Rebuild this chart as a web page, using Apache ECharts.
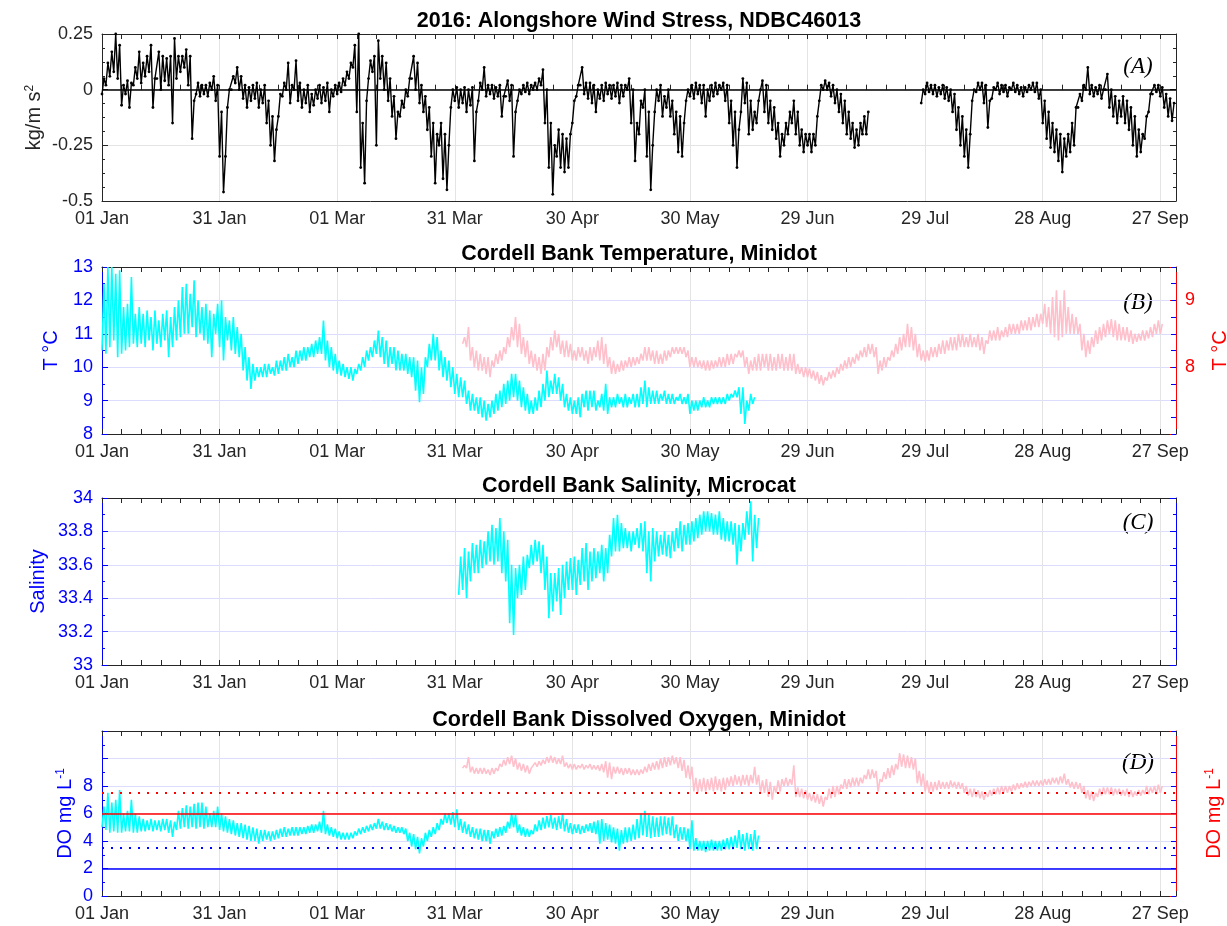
<!DOCTYPE html>
<html><head><meta charset="utf-8">
<script src="https://cdn.jsdelivr.net/npm/echarts@6/dist/echarts.min.js"></script>
<style>html,body{margin:0;padding:0;background:#fff}#c{width:1227px;height:926px}</style>
</head><body><div id="c"></div>
<script>
// ---------- data ----------
const tickLabels = ['01 Jan','31 Jan','01 Mar','31 Mar','30 Apr','30 May','29 Jun','29 Jul','28 Aug','27 Sep'];
const dayMax = 274; // days since 01 Jan 2016 (01 Oct)

// Panel A: alongshore wind stress (kg/m s^2), daily low / high, from day 0
const windStart = 0;
const windLo = [
-0.02,0.02,0.06,0.08,0.05,-0.07,-0.02,-0.08,0.02,0.05,
0.03,0.06,0.08,-0.08,0.05,0.0,0.04,0.02,-0.15,0.05,
0.08,0.1,0.02,-0.22,-0.02,-0.03,-0.02,-0.03,0.0,-0.05,
-0.3,-0.46,-0.08,0.0,0.03,0.0,-0.04,-0.08,-0.05,-0.04,
-0.08,-0.06,-0.15,-0.25,-0.32,-0.12,-0.03,0.0,-0.06,0.0,
-0.05,-0.08,-0.06,-0.1,-0.07,-0.04,-0.06,-0.05,-0.1,-0.03,
-0.02,-0.01,0.02,0.05,0.1,-0.1,-0.35,-0.42,0.05,0.08,
-0.25,0.05,0.0,-0.05,-0.12,-0.22,-0.12,-0.08,-0.03,0.05,
0.0,-0.06,-0.1,-0.18,-0.3,-0.42,-0.25,-0.4,-0.45,-0.08,
-0.05,-0.08,-0.06,-0.1,-0.07,-0.32,-0.05,0.0,-0.03,-0.02,
-0.04,-0.03,-0.12,-0.03,-0.05,-0.3,-0.05,-0.02,-0.01,-0.02,
0.0,0.0,0.02,-0.15,-0.35,-0.47,-0.3,-0.35,-0.37,-0.35,
-0.15,-0.03,0.02,-0.02,-0.04,-0.06,-0.1,-0.04,-0.05,-0.02,
-0.04,-0.03,-0.06,-0.03,0.0,-0.15,-0.32,-0.2,-0.08,-0.3,
-0.45,-0.1,-0.05,-0.12,-0.08,-0.12,-0.2,-0.28,-0.3,-0.05,
-0.03,-0.04,-0.02,-0.06,-0.12,-0.05,-0.03,-0.02,0.0,-0.05,
-0.15,-0.25,-0.35,-0.1,-0.06,-0.2,-0.18,-0.15,0.0,-0.1,
-0.15,-0.18,-0.22,-0.3,-0.25,-0.2,-0.15,-0.2,-0.25,-0.28,
-0.25,-0.28,-0.25,-0.05,0.0,0.0,-0.03,-0.06,-0.1,-0.15,
-0.2,-0.22,-0.26,-0.25,-0.2,-0.2,null,null,null,null,
null,null,null,null,null,null,null,null,null,-0.06,
-0.02,-0.01,-0.02,-0.03,-0.02,-0.04,-0.05,-0.1,-0.18,-0.25,
-0.3,-0.35,-0.05,-0.01,0.0,-0.06,-0.17,-0.04,0.0,-0.02,
-0.01,-0.03,0.0,-0.01,-0.02,-0.03,-0.01,0.0,-0.01,-0.04,
-0.15,-0.22,-0.26,-0.28,-0.32,-0.37,-0.3,-0.28,-0.25,-0.08,
-0.05,0.0,-0.02,-0.03,-0.02,-0.04,0.0,-0.08,-0.12,-0.15,
-0.12,-0.15,-0.18,-0.25,-0.3,-0.28,-0.22,-0.1,-0.02,-0.01,
-0.03,-0.08,-0.12,-0.14];
const windHi = [
0.05,0.12,0.17,0.25,0.2,0.02,0.04,0.03,0.1,0.17,
0.12,0.15,0.2,0.05,0.17,0.15,0.14,0.15,0.23,0.15,
0.15,0.18,0.15,-0.05,0.03,0.02,0.02,0.03,0.06,0.02,
-0.1,-0.3,0.0,0.06,0.1,0.06,0.02,0.01,0.02,0.03,
0.0,0.02,-0.05,-0.12,-0.18,-0.02,0.03,0.12,0.02,0.13,
0.03,0.0,0.02,-0.02,0.0,0.02,0.01,0.03,0.0,0.02,
0.03,0.05,0.08,0.12,0.2,0.25,-0.15,-0.05,0.13,0.15,
0.22,0.15,0.12,0.05,-0.03,-0.1,-0.05,0.0,0.05,0.15,
0.12,0.02,-0.03,-0.08,-0.15,-0.2,-0.15,-0.2,-0.25,0.0,
0.01,0.0,0.01,0.0,0.01,-0.1,0.03,0.1,0.02,0.02,
0.01,0.02,-0.03,0.04,0.02,-0.1,0.0,0.02,0.03,0.02,
0.03,0.05,0.09,0.0,-0.15,-0.25,-0.18,-0.2,-0.22,-0.2,
-0.05,0.02,0.1,0.03,0.03,0.02,0.0,0.02,0.03,0.02,
0.02,0.03,0.02,0.02,0.05,0.0,-0.15,-0.05,0.0,-0.1,
-0.25,0.0,0.02,-0.03,0.0,-0.05,-0.1,-0.12,-0.15,0.0,
0.02,0.03,0.02,0.02,0.0,0.02,0.03,0.02,0.03,0.02,
-0.05,-0.1,-0.18,0.05,0.03,-0.05,-0.1,-0.05,0.04,0.02,
-0.05,-0.08,-0.15,-0.2,-0.15,-0.1,-0.05,-0.1,-0.18,-0.2,
-0.2,-0.2,-0.12,0.02,0.04,0.03,0.02,0.0,-0.02,-0.05,
-0.1,-0.15,-0.18,-0.15,-0.12,-0.1,null,null,null,null,
null,null,null,null,null,null,null,null,null,0.0,
0.03,0.02,0.02,0.01,0.02,0.01,0.0,-0.02,-0.08,-0.12,
-0.18,-0.2,0.0,0.03,0.03,0.02,-0.05,0.01,0.03,0.02,
0.02,0.01,0.03,0.02,0.01,0.01,0.02,0.03,0.03,0.0,
-0.05,-0.1,-0.15,-0.18,-0.2,-0.22,-0.2,-0.15,-0.08,-0.02,
0.02,0.1,0.02,0.01,0.02,0.0,0.07,0.0,-0.03,-0.05,
-0.03,-0.05,-0.08,-0.12,-0.18,-0.2,-0.12,-0.02,0.02,0.02,
0.01,-0.02,-0.04,-0.06];

// Panel B: temperature (deg C). Cyan on left axis from day 0, pink on right axis from day 92
const tempCyanStart = 0;
const tempCyanLo = [
10.5,10.4,10.6,10.8,10.3,10.4,10.5,10.6,10.7,10.6,
10.7,10.6,10.8,10.5,10.7,10.6,10.8,10.3,10.6,10.8,
10.9,11.0,11.0,11.2,10.9,11.0,10.8,10.7,10.3,11.0,
10.6,10.2,10.8,10.5,10.4,10.3,9.9,9.6,9.35,9.6,
9.7,9.7,9.7,9.8,9.75,9.8,9.9,9.9,10.0,10.0,
10.1,10.2,10.2,10.3,10.3,10.4,10.4,10.2,10.0,9.9,
9.8,9.75,9.7,9.65,9.6,9.8,9.9,10.0,10.2,10.3,
10.4,10.3,10.1,10.0,10.1,9.9,9.9,9.9,9.8,9.7,
9.3,8.95,9.2,10.0,10.2,10.2,9.9,9.7,9.6,9.4,
9.2,9.1,9.1,8.9,8.7,8.7,8.6,8.5,8.4,8.5,
8.6,8.7,8.8,8.9,9.0,9.1,9.0,8.8,8.7,8.6,
8.6,8.7,8.8,9.0,9.1,9.2,9.2,9.0,8.8,8.7,
8.6,8.6,8.5,8.8,8.7,8.8,8.7,8.8,8.7,8.6,
8.8,8.8,8.9,8.8,8.8,8.9,8.8,8.8,8.9,8.8,
8.9,8.9,8.9,9.0,8.9,8.9,8.9,9.0,8.9,8.9,
8.6,8.7,8.7,8.8,8.8,8.8,8.9,8.9,8.9,8.9,
9.0,9.1,9.1,8.6,8.3,8.7,8.9];
const tempCyanHi = [
12.5,13.0,13.0,12.8,12.9,11.8,11.9,12.7,11.6,11.8,
11.6,11.7,11.5,11.7,11.4,11.6,11.7,11.5,11.8,12.0,
12.4,12.5,12.2,12.6,12.0,11.8,11.9,11.7,11.6,11.9,
12.0,11.5,11.4,11.5,11.2,11.0,10.6,10.3,10.1,10.0,
10.0,10.1,10.1,10.0,10.2,10.2,10.3,10.4,10.3,10.5,
10.5,10.6,10.6,10.7,10.8,10.9,11.4,10.8,10.6,10.4,
10.2,10.1,10.0,10.0,9.95,10.1,10.3,10.5,10.6,10.8,
11.1,10.9,10.8,10.6,10.6,10.5,10.4,10.4,10.3,10.3,
10.2,10.0,10.3,10.7,11.0,10.9,10.5,10.3,10.2,10.0,
9.8,9.7,9.6,9.3,9.2,9.1,9.1,9.0,8.9,9.0,
9.2,9.3,9.5,9.6,9.8,9.8,9.6,9.4,9.2,9.0,
9.1,9.3,9.5,9.9,9.6,9.8,9.7,9.5,9.2,9.1,
9.0,9.1,9.2,9.3,9.3,9.3,9.0,9.2,9.5,9.1,
9.1,9.2,9.1,9.2,9.1,9.2,9.2,9.4,9.6,9.4,
9.3,9.3,9.2,9.3,9.2,9.2,9.1,9.2,9.1,9.2,
9.0,9.0,9.0,9.1,9.0,9.1,9.1,9.1,9.1,9.2,
9.2,9.3,9.4,9.4,9.0,9.2,9.1];
const tempPinkStart = 92;
const tempPinkLo = [
8.35,8.3,8.1,8.0,7.95,7.95,7.9,7.85,
8.0,8.05,8.1,8.2,8.3,8.4,8.3,8.2,8.15,8.05,
8.0,7.95,7.9,7.95,8.15,8.25,8.3,8.2,8.15,8.15,
8.1,8.1,8.15,8.1,8.05,8.1,8.15,8.1,8.05,8.0,
7.9,7.9,7.93,7.95,8.0,8.0,8.03,8.05,8.1,8.1,
8.1,8.05,8.05,8.05,8.1,8.15,8.2,8.2,8.2,8.15,
8.0,8.0,8.0,7.98,7.95,7.95,7.98,8.0,8.0,8.0,
8.03,8.05,8.15,8.15,8.0,7.9,7.95,7.95,7.95,8.0,
7.95,7.95,7.95,7.98,7.95,7.95,7.95,7.9,7.9,7.85,
7.85,7.83,7.8,7.75,7.73,7.8,7.83,7.85,7.9,7.95,
7.98,8.0,8.05,8.1,8.15,8.15,8.2,8.15,7.9,7.95,
8.0,8.1,8.15,8.2,8.25,8.3,8.3,8.25,8.15,8.1,
8.08,8.1,8.15,8.15,8.2,8.2,8.25,8.25,8.25,8.3,
8.3,8.3,8.3,8.3,8.25,8.2,8.35,8.4,8.4,8.4,
8.45,8.45,8.5,8.5,8.5,8.55,8.55,8.55,8.6,8.6,
8.65,8.6,8.5,8.45,8.4,8.45,8.5,8.5,8.5,8.5,
8.25,8.15,8.2,8.3,8.35,8.4,8.45,8.5,8.45,8.4,
8.4,8.4,8.38,8.35,8.38,8.4,8.4,8.43,8.45,8.5,8.5];
const tempPinkHi = [
8.45,8.6,8.3,8.25,8.2,8.15,8.15,8.1,
8.2,8.25,8.3,8.45,8.6,8.75,8.65,8.45,8.4,8.25,
8.2,8.15,8.2,8.3,8.45,8.55,8.5,8.4,8.4,8.35,
8.25,8.3,8.3,8.25,8.3,8.3,8.4,8.45,8.35,8.15,
8.1,8.05,8.1,8.1,8.15,8.15,8.15,8.2,8.3,8.3,
8.25,8.25,8.2,8.25,8.25,8.3,8.3,8.3,8.3,8.25,
8.15,8.15,8.1,8.1,8.1,8.1,8.1,8.15,8.15,8.2,
8.2,8.2,8.25,8.25,8.15,8.1,8.15,8.2,8.2,8.2,
8.2,8.15,8.2,8.2,8.15,8.2,8.2,8.05,8.0,8.0,
7.98,7.95,7.93,7.88,7.85,7.93,7.95,8.0,8.05,8.1,
8.15,8.15,8.2,8.25,8.3,8.35,8.35,8.3,8.1,8.15,
8.15,8.25,8.35,8.45,8.5,8.65,8.6,8.5,8.35,8.25,
8.25,8.3,8.3,8.35,8.4,8.4,8.45,8.45,8.5,8.5,
8.45,8.5,8.45,8.5,8.45,8.4,8.55,8.55,8.6,8.55,
8.6,8.65,8.65,8.65,8.7,8.7,8.75,8.75,8.8,8.8,
8.95,8.9,9.05,9.15,9.0,9.15,8.9,8.8,8.75,8.65,
8.5,8.4,8.45,8.55,8.6,8.65,8.7,8.72,8.7,8.65,
8.6,8.6,8.55,8.5,8.5,8.55,8.55,8.6,8.65,8.7,8.65];

// Panel C: salinity, from day 91
const salStart = 91;
const salLo = [
33.42,33.45,33.4,33.5,33.55,33.55,33.58,33.6,33.62,
33.6,33.62,33.55,33.5,33.25,33.18,33.4,33.42,33.45,33.58,
33.6,33.62,33.55,33.45,33.28,33.32,33.38,33.3,33.4,33.45,
33.45,33.42,33.48,33.5,33.45,33.5,33.52,33.55,33.5,33.55,
33.65,33.68,33.68,33.7,33.7,33.68,33.72,33.7,33.68,33.55,
33.5,33.62,33.65,33.66,33.65,33.64,33.68,33.7,33.68,33.72,
33.72,33.74,33.76,33.78,33.8,33.8,33.78,33.78,33.75,33.74,
33.74,33.72,33.6,33.68,33.75,33.78,33.62,33.7];
const salHi = [
33.65,33.7,33.68,33.73,33.72,33.75,33.74,33.8,33.84,
33.82,33.88,33.8,33.75,33.6,33.58,33.6,33.65,33.66,33.72,
33.75,33.74,33.72,33.65,33.55,33.55,33.58,33.6,33.62,33.64,
33.65,33.63,33.7,33.73,33.68,33.7,33.68,33.72,33.7,33.78,
33.88,33.9,33.85,33.82,33.8,33.8,33.82,33.85,33.86,33.8,
33.82,33.8,33.78,33.8,33.78,33.8,33.82,33.86,33.84,33.85,
33.86,33.88,33.9,33.92,33.92,33.91,33.9,33.92,33.88,33.86,
33.86,33.85,33.84,33.85,33.92,33.98,33.9,33.88];

// Panel D: dissolved oxygen (mg/L). Cyan from day 0, pink from day 92
const doCyanStart = 0;
const doCyanLo = [
5.0,4.8,4.6,4.7,4.6,4.6,4.7,4.7,4.6,4.6,
4.7,4.7,4.8,4.7,4.8,4.7,4.8,4.6,4.3,4.8,
4.9,5.0,4.9,5.0,4.9,5.0,4.9,5.0,5.0,5.0,
4.8,4.7,4.6,4.5,4.4,4.3,4.2,4.1,4.0,4.0,
3.8,4.0,4.1,4.0,4.1,4.2,4.3,4.3,4.4,4.4,
4.4,4.5,4.5,4.6,4.6,4.7,4.6,4.5,4.4,4.3,
4.2,4.1,4.1,4.1,4.2,4.4,4.5,4.6,4.7,4.8,
4.9,4.9,4.8,4.8,4.7,4.6,4.6,4.5,4.0,3.6,
3.4,3.1,3.6,4.0,4.3,4.5,4.8,5.2,5.3,5.2,
5.0,4.8,4.6,4.5,4.3,4.2,4.1,4.0,4.0,3.8,
4.2,4.3,4.4,4.6,4.9,5.0,4.6,4.4,4.3,4.3,
4.5,4.7,4.8,4.9,5.0,4.9,4.8,4.9,4.7,4.6,
4.5,4.6,4.5,4.6,4.7,4.6,4.5,3.8,4.0,4.1,
3.9,3.8,3.3,3.8,3.9,4.0,4.1,4.2,4.4,4.3,
4.2,4.3,4.3,4.4,4.5,4.4,4.2,4.0,4.1,4.0,
3.4,3.3,3.3,3.3,3.2,3.3,3.3,3.3,3.3,3.4,
3.4,3.4,3.5,3.4,3.3,3.4,3.3,3.4];
const doCyanHi = [
6.5,7.5,6.8,7.0,7.7,6.0,6.2,7.0,6.0,5.8,
5.6,5.5,5.6,5.5,5.5,5.6,5.6,5.5,5.4,6.2,
6.4,6.6,6.5,6.7,6.8,6.8,6.5,6.0,6.2,6.5,
6.0,5.8,5.6,5.5,5.3,5.3,5.2,5.1,5.0,4.9,
4.8,4.8,4.7,4.7,4.8,4.9,5.0,4.9,5.0,5.0,
5.0,5.0,5.1,5.2,5.2,5.4,6.2,5.2,5.0,4.9,
4.7,4.6,4.6,4.6,4.7,4.9,5.0,5.1,5.2,5.3,
5.6,5.4,5.3,5.2,5.1,5.0,5.0,4.9,4.6,4.5,
4.3,4.2,4.6,4.8,5.0,5.3,5.6,6.0,6.0,6.1,
6.3,5.6,5.4,5.2,5.0,4.9,4.9,4.8,4.8,4.7,
4.9,5.0,5.1,5.4,6.0,5.9,5.2,5.0,4.9,4.8,
5.2,5.5,5.7,5.8,5.9,5.7,5.8,6.0,5.6,5.3,
5.2,5.2,5.1,5.2,5.3,5.4,5.5,5.6,5.3,5.2,
5.0,4.9,4.8,5.0,5.0,5.2,5.6,6.0,6.2,5.9,
5.8,5.7,5.8,5.8,5.7,5.8,5.2,5.0,5.0,4.9,
5.5,4.2,4.0,4.0,4.0,4.1,4.0,4.0,4.1,4.2,
4.3,4.4,4.8,4.5,4.6,4.5,4.8,4.4];
const doPinkStart = 92;
const doPinkLo = [
9.3,9.3,9.0,8.9,8.9,8.9,8.9,8.8,
8.9,9.1,9.4,9.5,9.6,9.4,9.2,9.1,9.0,8.9,
9.3,9.4,9.5,9.6,9.7,9.7,9.6,9.6,9.4,9.3,
9.2,9.2,9.3,9.2,9.3,9.2,9.2,9.1,9.0,8.6,
8.5,8.9,8.9,8.8,8.9,8.8,8.8,8.8,8.9,9.0,
9.1,9.2,9.2,9.3,9.4,9.5,9.6,9.3,9.1,8.6,
8.5,7.6,7.5,7.6,7.6,7.7,7.6,7.7,7.6,7.7,
8.0,8.0,8.1,8.0,8.1,8.0,8.2,8.1,7.5,7.5,
7.2,7.0,7.5,7.6,8.0,8.0,8.1,7.2,7.2,7.1,
7.0,6.9,6.8,6.7,6.5,7.0,7.1,7.2,7.4,7.8,
7.8,7.9,8.0,8.0,8.2,8.5,8.5,8.6,7.6,8.3,
8.5,8.6,8.8,9.2,9.4,9.3,9.3,9.2,8.2,8.0,
7.6,7.5,7.6,7.7,7.8,7.8,7.8,7.9,7.8,7.8,
7.5,7.3,7.2,7.2,7.1,7.0,7.2,7.3,7.4,7.4,
7.5,7.5,7.6,7.7,7.8,7.9,7.9,8.0,8.0,8.0,
8.0,8.1,8.1,8.2,8.1,8.2,8.1,7.9,7.8,7.8,
7.5,7.1,7.0,6.9,7.2,7.3,7.4,7.4,7.3,7.4,
7.3,7.3,7.2,7.2,7.3,7.3,7.4,7.4,7.5,7.4,7.5];
const doPinkHi = [
9.5,10.1,9.4,9.3,9.3,9.3,9.2,9.3,
9.3,9.6,9.9,10.1,10.2,10.0,9.7,9.6,9.5,9.3,
9.7,9.8,9.9,10.1,10.2,10.1,10.0,10.2,9.7,9.6,
9.6,9.5,9.6,9.5,9.6,9.5,9.5,9.6,9.8,9.7,
9.4,9.4,9.3,9.3,9.3,9.2,9.2,9.2,9.4,9.6,
9.7,9.8,10.0,10.1,10.1,10.2,10.1,10.1,9.9,9.5,
9.4,8.6,8.5,8.6,8.5,8.6,8.7,8.5,8.6,8.6,
8.7,8.8,8.7,8.8,8.8,8.8,9.4,8.8,8.4,8.5,
8.3,8.0,8.4,8.5,8.6,8.5,9.5,7.9,7.8,7.7,
7.5,7.4,7.4,7.3,7.2,7.8,8.0,8.0,8.1,8.5,
8.5,8.6,8.6,8.6,8.8,9.2,9.2,9.1,8.5,9.0,
9.3,9.5,9.6,10.4,10.3,10.2,10.1,10.0,9.1,8.9,
8.4,8.3,8.3,8.4,8.3,8.3,8.4,8.3,8.3,8.2,
8.0,7.8,7.8,7.7,7.6,7.5,7.7,7.8,7.9,8.0,
8.0,8.0,8.1,8.2,8.2,8.3,8.3,8.4,8.4,8.4,
8.5,8.5,8.6,8.6,8.7,8.9,8.5,8.3,8.3,8.2,
8.0,7.7,7.6,7.5,7.8,7.9,7.9,7.9,7.8,7.8,
7.7,7.8,7.7,7.6,7.7,7.7,8.0,7.9,8.0,8.1,8.0];

// Panel D reference levels (mg/L)
const doRedDotted = 7.5, doRedSolid = 6, doBlueDotted = 3.5, doBlueSolid = 2;

// ---------- helpers ----------
function zig(start, lo, hi) {
  const out = [];
  for (let i = 0; i < lo.length; i++) {
    const d = start + i;
    if (lo[i] === null) { out.push([d, '-']); continue; }
    out.push([d, lo[i]]);
    out.push([d + 0.5, hi[i]]);
  }
  return out;
}

const DARK = '#262626', BLUE = '#0000ff', RED = '#ff0000';
const GGRID = '#e4e4e4', BGRID = '#dcdcff';
const CYAN = '#00ffff', PINK = '#ffc0cb';
const FONT = '"Liberation Sans", Arial, Helvetica, sans-serif';
const TICK_FS = 18, NAME_FS = 20, TITLE_FS = 21.5;

const L = 102, W = 1074;
const tops = [34, 267, 498, 731];
const heights = [167, 167, 167, 165];

const grid = [];
tops.forEach((t, p) => {
  for (let k = 0; k < 2; k++) {
    grid.push({ left: L, top: t, width: W, height: heights[p], containLabel: false, outerBoundsMode: 'none' });
  }
});

const xAxis = [];
tops.forEach((t, p) => {
  xAxis.push({
    gridIndex: 2 * p, type: 'value', position: 'bottom', min: 0, max: dayMax, interval: 30,
    axisLine: { show: true, onZero: false, lineStyle: { color: DARK, width: 1 } },
    axisTick: { show: false },
    axisLabel: { color: DARK, fontSize: TICK_FS, fontFamily: FONT, margin: 9,
      formatter: v => (v % 30 === 0 && v / 30 < tickLabels.length) ? tickLabels[v / 30] : '' },
    splitLine: { show: true, lineStyle: { color: GGRID, width: 1 } }
  });
  xAxis.push({
    gridIndex: 2 * p, type: 'value', position: 'top', min: 0, max: dayMax, interval: 5,
    axisLine: { show: true, onZero: false, lineStyle: { color: DARK, width: 1 } },
    axisTick: { show: true, inside: true, length: 5, lineStyle: { color: DARK } },
    axisLabel: { show: false }, splitLine: { show: false }
  });
  xAxis.push({
    gridIndex: 2 * p + 1, type: 'value', position: 'bottom', min: 0, max: dayMax, interval: 5,
    axisLine: { show: false },
    axisTick: { show: true, inside: true, length: 5, lineStyle: { color: DARK } },
    axisLabel: { show: false }, splitLine: { show: false }
  });
});

function yAx(o) {
  const color = o.color;
  return {
    gridIndex: o.grid, type: 'value', position: o.pos, min: o.min, max: o.max, interval: o.interval,
    axisLine: { show: o.line !== false, onZero: false, lineStyle: { color, width: 1 } },
    axisTick: { show: true, inside: true, length: o.tickLen || 6, lineStyle: { color } },
    minorTick: { show: !!o.minor, splitNumber: o.minor || 5, length: 3, lineStyle: { color } },
    axisLabel: { show: !!o.labels, color, fontSize: TICK_FS, fontFamily: FONT, margin: 9,
      formatter: o.fmt },
    splitLine: { show: !!o.split, lineStyle: { color: o.split || '#eee', width: 1 } },
    name: o.name || '', nameLocation: 'middle', nameGap: o.gap || 40, nameRotate: 90,
    nameMoveOverlap: false,
    nameTextStyle: { color, fontSize: NAME_FS, fontFamily: FONT,
      rich: { sup: { fontSize: 12, fontFamily: FONT, color, verticalAlign: 'top', lineHeight: 12 } } }
  };
}

const yAxis = [
  // Panel A
  yAx({ grid: 0, pos: 'left', min: -0.5, max: 0.25, interval: 0.25, color: DARK, minor: 4, labels: true,
        split: GGRID, name: 'kg/m s{sup|2}', gap: 58, fmt: v => String(v) }),
  yAx({ grid: 0, pos: 'right', min: -0.5, max: 0.25, interval: 0.25, color: DARK, minor: 4 }),
  yAx({ grid: 1, pos: 'left', min: -0.5, max: 0.25, interval: 0.25, color: DARK, line: false, tickLen: 0 }),
  // Panel B
  yAx({ grid: 2, pos: 'left', min: 8, max: 13, interval: 1, color: BLUE, minor: 2, labels: true,
        split: BGRID, name: 'T °C', gap: 41, fmt: v => String(v) }),
  yAx({ grid: 2, pos: 'right', min: 7, max: 9.5, interval: 1, color: RED, labels: true,
        name: 'T °C', gap: 34, fmt: v => (v === 8 || v === 9) ? String(v) : '' }),
  yAx({ grid: 3, pos: 'right', min: 8, max: 13, interval: 0.5, color: BLUE, line: false, tickLen: 5 }),
  // Panel C
  yAx({ grid: 4, pos: 'left', min: 33, max: 34, interval: 0.2, color: BLUE, minor: 2, labels: true,
        split: BGRID, name: 'Salinity', gap: 54, fmt: v => String(+v.toFixed(1)) }),
  yAx({ grid: 4, pos: 'right', min: 33, max: 34, interval: 0.2, color: BLUE, minor: 2 }),
  yAx({ grid: 5, pos: 'left', min: 33, max: 34, interval: 0.2, color: BLUE, line: false, tickLen: 0 }),
  // Panel D
  yAx({ grid: 6, pos: 'left', min: 0, max: 12, interval: 2, color: BLUE, minor: 2, labels: true,
        split: BGRID, name: 'DO mg L{sup|-1}', gap: 27, fmt: v => v <= 8 ? String(v) : '' }),
  yAx({ grid: 6, pos: 'right', min: 0, max: 12, interval: 5, color: RED,
        name: 'DO mg L{sup|-1}', gap: 28 }),
  yAx({ grid: 7, pos: 'right', min: 0, max: 12, interval: 1, color: BLUE, line: false, tickLen: 5 })
];

const noSym = { symbol: 'none', showSymbol: false };
const BAND_W = 1.6;
const series = [
  { type: 'line', name: 'wind', xAxisIndex: 0, yAxisIndex: 0, data: zig(windStart, windLo, windHi),
    symbol: 'circle', symbolSize: 2.8, showSymbol: true, showAllSymbol: true,
    itemStyle: { color: '#000' }, lineStyle: { color: '#000', width: 1.4 },
    markLine: { silent: true, symbol: 'none', label: { show: false }, animation: false,
      lineStyle: { color: '#000', width: 1.6, type: 'solid' }, data: [{ yAxis: 0 }] } },
  Object.assign({ type: 'line', xAxisIndex: 3, yAxisIndex: 4, data: zig(tempPinkStart, tempPinkLo, tempPinkHi),
    lineStyle: { color: PINK, width: BAND_W } }, noSym),
  Object.assign({ type: 'line', xAxisIndex: 3, yAxisIndex: 3, data: zig(tempCyanStart, tempCyanLo, tempCyanHi),
    lineStyle: { color: CYAN, width: BAND_W } }, noSym),
  Object.assign({ type: 'line', xAxisIndex: 6, yAxisIndex: 6, data: zig(salStart, salLo, salHi),
    lineStyle: { color: CYAN, width: BAND_W } }, noSym),
  Object.assign({ type: 'line', xAxisIndex: 9, yAxisIndex: 10, data: zig(doPinkStart, doPinkLo, doPinkHi),
    lineStyle: { color: PINK, width: BAND_W } }, noSym),
  Object.assign({ type: 'line', xAxisIndex: 9, yAxisIndex: 9, data: zig(doCyanStart, doCyanLo, doCyanHi),
    lineStyle: { color: CYAN, width: BAND_W },
    markLine: { silent: true, symbol: 'none', label: { show: false }, animation: false,
      data: [
        { yAxis: doRedDotted, lineStyle: { color: RED, width: 2, type: [2, 7] } },
        { yAxis: doRedSolid, lineStyle: { color: RED, width: 1.5, type: 'solid' } },
        { yAxis: doBlueDotted, lineStyle: { color: BLUE, width: 2, type: [2, 7] } },
        { yAxis: doBlueSolid, lineStyle: { color: BLUE, width: 1.5, type: 'solid' } }
      ] } }, noSym)
];

const titles = [
  ['2016: Alongshore Wind Stress, NDBC46013', 21],
  ['Cordell Bank Temperature, Minidot', 254],
  ['Cordell Bank Salinity, Microcat', 486],
  ['Cordell Bank Dissolved Oxygen, Minidot', 720]
];
const panelTags = [['(A)', 67], ['(B)', 303], ['(C)', 523], ['(D)', 763]];
const graphic = [];
titles.forEach(([t, y]) => graphic.push({ type: 'text', x: L + W / 2, y: y, silent: true,
  style: { text: t, x: 0, y: 0, align: 'center', verticalAlign: 'middle', fill: '#000',
    font: 'bold ' + TITLE_FS + 'px ' + FONT } }));
panelTags.forEach(([t, y]) => graphic.push({ type: 'text', x: 1138, y: y, silent: true,
  style: { text: t, align: 'center', verticalAlign: 'middle', fill: '#000',
    font: 'italic 23px "Liberation Serif", "Times New Roman", serif' } }));

const chart = echarts.init(document.getElementById('c'), null, { renderer: 'canvas' });
chart.setOption({
  animation: false, backgroundColor: '#fff',
  grid, xAxis, yAxis, series, graphic
});
</script>
</body></html>
